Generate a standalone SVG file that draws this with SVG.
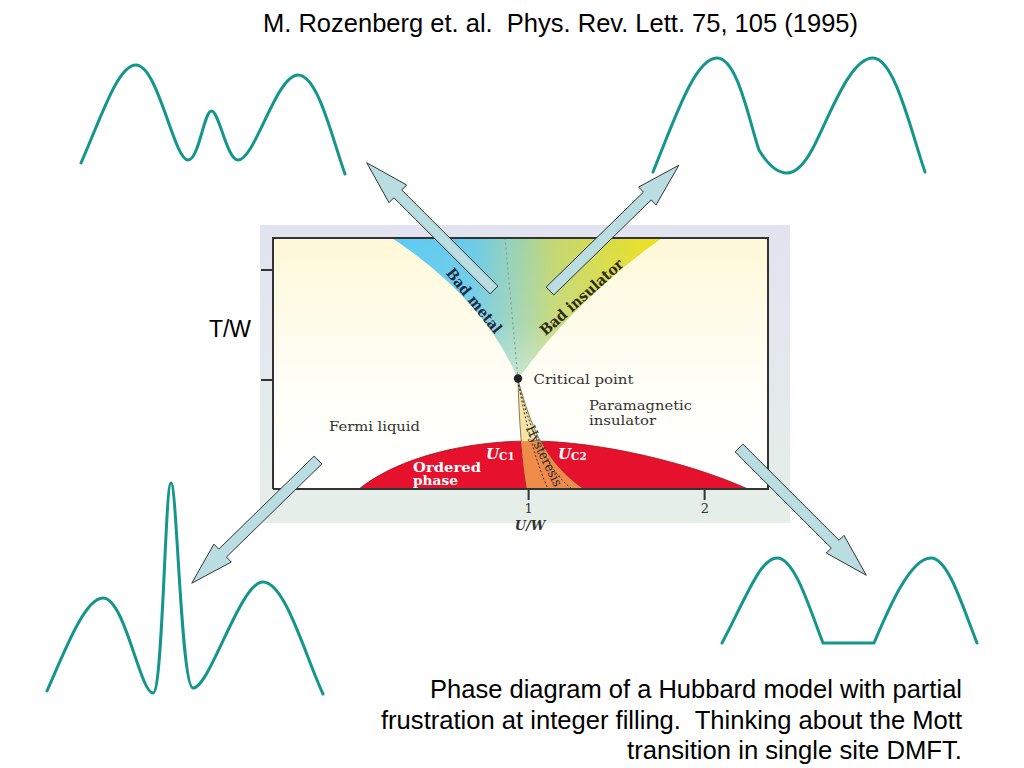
<svg xmlns="http://www.w3.org/2000/svg" xmlns:xlink="http://www.w3.org/1999/xlink" width="1024" height="768" viewBox="0 0 1024 768">
<style>
.spec{fill:none;stroke:#14968c;stroke-width:3;stroke-linecap:round;stroke-linejoin:round}
.arr{fill:#b9dde1;stroke:#2a2a2a;stroke-width:0.9;stroke-linejoin:miter}
.sans{font-family:"Liberation Sans",Arial,sans-serif;fill:#000}
.ser{font-family:"DejaVu Serif","Liberation Serif",serif;fill:#333}
.frame{fill:none;stroke:#333;stroke-width:2}
</style>
<defs>
<linearGradient id="outerBg" x1="0" y1="0" x2="0" y2="1">
<stop offset="0" stop-color="#e2e3f0"/>
<stop offset="1" stop-color="#e5efe8"/>
</linearGradient>
<linearGradient id="plotBg" x1="0" y1="0" x2="0" y2="1">
<stop offset="0" stop-color="#fff8d8"/>
<stop offset="0.55" stop-color="#fffef6"/>
<stop offset="1" stop-color="#ffffff"/>
</linearGradient>
<linearGradient id="fanGrad" gradientUnits="userSpaceOnUse" x1="392" y1="0" x2="662" y2="0">
<stop offset="0" stop-color="#5ccbf5"/>
<stop offset="0.3" stop-color="#6ccbe8"/>
<stop offset="0.45" stop-color="#98d2b6"/>
<stop offset="0.6" stop-color="#c3d772"/>
<stop offset="0.85" stop-color="#dfdd3c"/>
<stop offset="1" stop-color="#efe41c"/>
</linearGradient>
<linearGradient id="fanFade" gradientUnits="userSpaceOnUse" x1="0" y1="238" x2="0" y2="379">
<stop offset="0" stop-color="#ffffff" stop-opacity="0"/>
<stop offset="0.6" stop-color="#ffffff" stop-opacity="0.1"/>
<stop offset="1" stop-color="#ffffff" stop-opacity="0.45"/>
</linearGradient>
<clipPath id="domeClip">
<path d="M359,489 C400,456 470,441 530,441 C600,441 690,463 748,489 Z"/>
</clipPath>
<path id="blockArrow" d="M0,-5.5 L136,-5.5 L136,-12.5 L180,0 L136,12.5 L136,5.5 L0,5.5 Z"/>
</defs>

<rect width="1024" height="768" fill="#ffffff"/>

<text id="title" class="sans" x="263" y="32" font-size="25.5" textLength="595" lengthAdjust="spacingAndGlyphs" xml:space="preserve">M. Rozenberg et. al.  Phys. Rev. Lett. 75, 105 (1995)</text>

<g id="phase-diagram">
<rect x="260" y="225" width="530" height="298" fill="url(#outerBg)"/>
<rect x="273" y="238" width="495" height="251" fill="url(#plotBg)"/>
<path d="M392,238 L662,238 Q575,300 518,379 Q485,300 392,238 Z" fill="url(#fanGrad)"/>
<path d="M392,238 L662,238 Q575,300 518,379 Q485,300 392,238 Z" fill="url(#fanFade)"/>
<line x1="518" y1="379" x2="505" y2="238" stroke="#8a9a9a" stroke-width="1.2" stroke-dasharray="2,3"/>
<path d="M359,489 C400,456 470,441 530,441 C600,441 690,463 748,489 Z" fill="#e6112c" stroke="#a0101c" stroke-width="0.8"/>
<path id="band" d="M518,380 C519,420 522,460 527,489 L583,489 C545,462 532,430 518,380 Z" fill="#f6e4a4" stroke="#6b5a3a" stroke-width="0.8"/>
<path d="M518,380 C519,420 522,460 527,489 L583,489 C545,462 532,430 518,380 Z" fill="#ef8c4a" clip-path="url(#domeClip)"/>
<path d="M518,381 C525,420 535,460 548,489" fill="none" stroke="#333" stroke-width="1" stroke-dasharray="2,2"/>
<path d="M518,381 C528,425 545,468 572,489" fill="none" stroke="#333" stroke-width="1" stroke-dasharray="2,2"/>
<path class="frame" d="M273,489 L273,238 L768,238 L768,489 L273,489"/>
<line x1="261" y1="270" x2="273" y2="270" stroke="#333" stroke-width="2"/>
<line x1="261" y1="380" x2="273" y2="380" stroke="#333" stroke-width="2"/>
<line x1="528.6" y1="489" x2="528.6" y2="500" stroke="#333" stroke-width="2"/>
<line x1="704.6" y1="489" x2="704.6" y2="500" stroke="#333" stroke-width="2"/>
<circle cx="518" cy="378.5" r="4.2" fill="#222"/>
<text class="ser" x="533.5" y="383.5" font-size="13.5" textLength="100" lengthAdjust="spacingAndGlyphs">Critical point</text>
<text class="ser" x="589" y="410" font-size="12.5" textLength="103" lengthAdjust="spacingAndGlyphs">Paramagnetic</text>
<text class="ser" x="589" y="424.5" font-size="12.5" textLength="67" lengthAdjust="spacingAndGlyphs">insulator</text>
<text class="ser" x="329" y="430.5" font-size="13.5" textLength="91" lengthAdjust="spacingAndGlyphs">Fermi liquid</text>
<text class="ser" x="413" y="471.5" font-size="12.5" font-weight="bold" style="fill:#fff" textLength="68" lengthAdjust="spacingAndGlyphs">Ordered</text>
<text class="ser" x="413" y="485" font-size="12" font-weight="bold" style="fill:#fff" textLength="45" lengthAdjust="spacingAndGlyphs">phase</text>
<text class="ser" x="486" y="459" font-size="15" font-weight="bold" font-style="italic" style="fill:#fff">U<tspan font-size="10.5" font-style="normal" dy="1">C1</tspan></text>
<text class="ser" x="558" y="459" font-size="15" font-weight="bold" font-style="italic" style="fill:#fff">U<tspan font-size="10.5" font-style="normal" dy="1">C2</tspan></text>
<text class="ser" x="0" y="0" font-size="13.5" text-anchor="middle" textLength="66" lengthAdjust="spacingAndGlyphs" transform="translate(540,458) rotate(64)" style="fill:#2a2a2a">Hysteresis</text>
<text class="ser" x="0" y="0" font-size="15" font-weight="bold" text-anchor="middle" textLength="79" lengthAdjust="spacingAndGlyphs" transform="translate(470,304) rotate(51)" style="fill:#1e2a44">Bad metal</text>
<text class="ser" x="0" y="0" font-size="15" font-weight="bold" text-anchor="middle" textLength="106" lengthAdjust="spacingAndGlyphs" transform="translate(585,301) rotate(-41.7)" style="fill:#2e2a18">Bad insulator</text>
<text class="ser" x="528.6" y="513" font-size="13" text-anchor="middle">1</text>
<text class="ser" x="705" y="513" font-size="13" text-anchor="middle">2</text>
<text class="ser" x="530" y="529.5" font-size="13" font-style="italic" font-weight="bold" text-anchor="middle">U/W</text>
<text class="sans" x="230" y="337" font-size="23" text-anchor="middle">T/W</text>
</g>

<g id="spectrum-bad-metal">
<path class="spec" d="M81,163 C102,115 118,65 136,65 C158,65 174,160 188,160 C199,160 204,111 211.5,111 C219,111 227,160 238,160 C255,160 276,75 298,75 C318,75 332,138 345,174"/>
</g>
<g id="spectrum-bad-insulator">
<path class="spec" d="M653,172 C675,118 695,58 717,58 C738,58 750,125 759,150 C768,165 778,173 787,173 C797,173 805,163 813,148 C830,115 850,58 873,58 C895,58 912,135 925,172"/>
</g>
<g id="spectrum-fermi-liquid">
<path class="spec" d="M47,691 C65,650 85,598 103,598 C125,598 140,693 153,693 C163,693 165,483 171,483 C177,483 181,688 193,688 C210,688 240,582 263,582 C285,582 305,655 323,694"/>
</g>
<g id="spectrum-paramagnetic-insulator">
<path class="spec" d="M722,643 C745,600 760,558 777,558 C795,558 810,610 823,643 L874,643 C888,610 910,558 931,558 C948,558 962,605 977,643"/>
</g>

<g id="connectors">
<use xlink:href="#blockArrow" class="arr" transform="translate(494,290) rotate(225)"/>
<use xlink:href="#blockArrow" class="arr" transform="translate(550,291) rotate(-44.3)"/>
<use xlink:href="#blockArrow" class="arr" transform="translate(318,460) rotate(135.7) scale(0.98,1)"/>
<use xlink:href="#blockArrow" class="arr" transform="translate(739,448) rotate(45)"/>
</g>

<g id="caption" class="sans" font-size="25" text-anchor="end">
<text x="962" y="698" textLength="532" lengthAdjust="spacingAndGlyphs">Phase diagram of a Hubbard model with partial</text>
<text x="962" y="728.5" textLength="581" lengthAdjust="spacingAndGlyphs" xml:space="preserve">frustration at integer filling.  Thinking about the Mott</text>
<text x="962" y="759" textLength="335" lengthAdjust="spacingAndGlyphs">transition in single site DMFT.</text>
</g>
</svg>
